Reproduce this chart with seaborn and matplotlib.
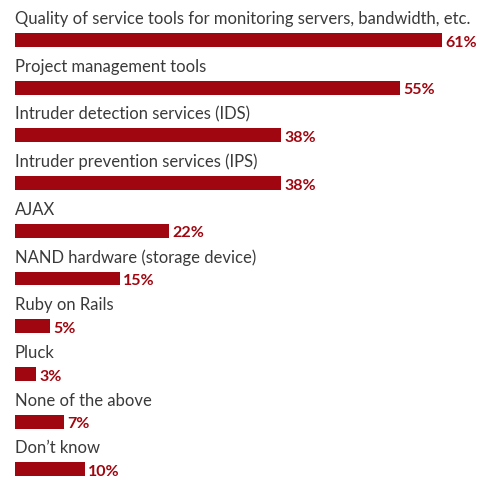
import matplotlib
matplotlib.use("Agg")
import matplotlib.pyplot as plt
import seaborn as sns
import pandas as pd

categories = [
    "Quality of service tools for monitoring servers, bandwidth, etc.",
    "Project management tools",
    "Intruder detection services (IDS)",
    "Intruder prevention services (IPS)",
    "AJAX",
    "NAND hardware (storage device)",
    "Ruby on Rails",
    "Pluck",
    "None of the above",
    "Don\u2019t know",
]
values = [61, 55, 38, 38, 22, 15, 5, 3, 7, 10]

BAR = "#a0060f"
TEXT = "#3a3a3a"

sns.set_theme(style="white")
plt.rcParams["font.family"] = ["Lato", "DejaVu Sans"]

df = pd.DataFrame({"category": categories, "value": values})

W, H = 483, 479
fig = plt.figure(figsize=(W / 100, H / 100), dpi=100)
ax = fig.add_axes([0, 0, 1, 1])

sns.barplot(data=df, x="value", y="category", color=BAR, width=0.293,
            saturation=1, ax=ax, orient="h", linewidth=0)

px_per_unit = 7.0
x0 = 15
ax.set_xlim(-x0 / px_per_unit, (W - x0) / px_per_unit)
row = 47.7
top = 40
ax.set_ylim((H - top) / row, -top / row)

for i, (c, v) in enumerate(zip(categories, values)):
    ax.text(0, i - 0.44, c, ha="left", va="center", fontsize=12, color=TEXT)
    ax.text(v + 0.45, i + 0.14, f"{v}%", ha="left", va="baseline",
            fontsize=11.5, fontweight="bold", color=BAR)

ax.axis("off")
fig.savefig("out.png", dpi=100)
